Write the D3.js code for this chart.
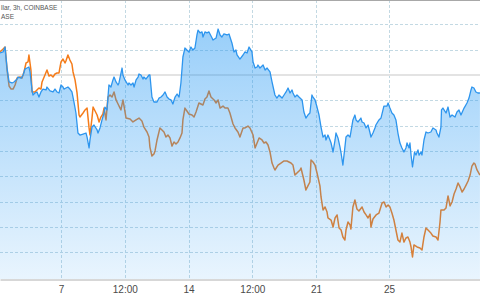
<!DOCTYPE html>
<html><head><meta charset="utf-8">
<script src="https://cdn.jsdelivr.net/npm/d3@7"></script>
<style>html,body{margin:0;padding:0;background:#fff;}svg{display:block;}</style>
</head><body>
<script>
// time in days of month, values in % change
const btcT = [3.65,3.82,3.93,4.04,4.15,4.31,4.42,4.59,4.64,4.81,4.92,5.02,5.13,5.24,5.30,5.41,5.46,5.57,5.68,5.79,5.90,6.01,6.18,6.23,6.40,6.56,6.67,6.78,6.89,7.00,7.11,7.16,7.27,7.38,7.49,7.60,7.71,7.82,7.93,8.04,8.21,8.37,8.43,8.54,8.59,8.70,8.81,8.98,9.03,9.14,9.25,9.36,9.41,9.52,9.63,9.74,9.85,9.91,10.02,10.13,10.18,10.35,10.40,10.51,10.68,10.73,10.84,10.95,11.01,11.12,11.23,11.28,11.39,11.50,11.55,11.66,11.83,11.88,11.99,12.10,12.27,12.38,12.49,12.60,12.71,12.82,12.93,13.04,13.14,13.26,13.37,13.48,13.58,13.69,13.80,13.91,14.02,14.13,14.24,14.35,14.46,14.52,14.63,14.74,14.79,14.90,15.01,15.12,15.29,15.34,15.51,15.62,15.73,15.83,15.94,16.11,16.22,16.38,16.49,16.60,16.66,16.82,16.99,17.10,17.21,17.32,17.48,17.54,17.65,17.76,17.81,17.92,18.09,18.20,18.31,18.47,18.58,18.74,18.85,18.96,19.13,19.24,19.35,19.46,19.57,19.68,19.73,19.84,19.95,20.06,20.23,20.33,20.44,20.55,20.66,20.77,20.83,20.94,21.05,21.16,21.27,21.38,21.49,21.54,21.65,21.76,21.82,21.93,22.04,22.09,22.20,22.31,22.37,22.47,22.58,22.64,22.75,22.86,22.91,23.02,23.13,23.19,23.30,23.46,23.52,23.63,23.74,23.85,23.96,24.01,24.12,24.23,24.28,24.45,24.56,24.67,24.72,24.89,24.95,25.05,25.16,25.27,25.38,25.49,25.60,25.71,25.82,25.93,25.99,26.10,26.15,26.21,26.29,26.40,26.48,26.59,26.65,26.76,26.81,26.92,27.03,27.14,27.30,27.41,27.58,27.63,27.74,27.85,27.88,27.96,28.13,28.24,28.35,28.46,28.62,28.73,28.84,28.95,29.12,29.28,29.39,29.50,29.55,29.66,29.77,29.88,29.99];
const btcV = [1.74,1.82,2.21,0.55,-0.55,-0.63,-0.55,-0.32,-0.16,-0.24,0,0.47,0.55,0.63,0.24,-1.18,-1.58,-1.42,-1.34,-1.74,-1.34,-1.11,-1.18,-0.95,-1.26,-1.34,-1.11,-1.34,-1.42,-0.79,-0.95,-1.11,-1.03,-0.95,-1.11,-1.34,-2.13,-3.00,-4.58,-4.74,-4.66,-4.58,-4.90,-5.76,-5.13,-4.11,-3.95,-4.34,-4.58,-4.18,-3.55,-3.00,-2.53,-2.76,-0.79,-0.95,-0.39,-0.16,-0.55,-0.79,-0.63,0.55,0,-0.39,-0.79,-0.63,-0.79,-0.63,-0.95,-0.39,-0.16,0.08,0,-0.32,-0.16,-0.32,0,0,-1.74,-2.13,-2.13,-1.82,-1.74,-1.58,-1.34,-1.74,-1.90,-1.97,-2.29,-1.74,-1.50,-1.74,-0.63,1.42,2.13,1.97,1.82,2.21,1.97,2.13,3.16,3.55,3.32,3.40,3.00,3.40,3.32,3.40,2.92,2.76,2.92,3.63,3.16,3.00,3.24,3.16,3.24,2.53,1.82,1.97,1.58,1.26,1.58,1.82,1.74,2.21,1.82,1.03,0.55,0.63,0.79,0.55,0.79,0.39,0.55,0.24,-0.55,-1.58,-1.82,-1.58,-1.82,-1.58,-1.34,-1.03,-1.42,-1.18,-1.42,-1.74,-1.58,-1.74,-1.97,-2.92,-3.40,-3.16,-3.00,-1.58,-1.74,-1.97,-2.53,-3.16,-4.11,-4.90,-4.74,-5.13,-4.74,-5.13,-5.37,-6.08,-5.13,-4.58,-4.97,-5.69,-6.16,-7.11,-5.69,-4.90,-4.74,-4.90,-4.50,-3.55,-3.16,-3.55,-3.71,-3.40,-3.71,-3.79,-4.18,-3.95,-4.58,-4.90,-4.58,-4.18,-3.95,-3.55,-3.40,-2.76,-2.45,-2.45,-2.21,-2.61,-3.00,-3.16,-3.55,-4.58,-5.37,-5.76,-6.08,-5.76,-5.37,-5.76,-5.37,-6.32,-7.26,-6.08,-6.32,-5.92,-6.32,-6.08,-6.32,-5.13,-4.50,-4.58,-4.50,-4.18,-4.34,-4.58,-4.90,-4.11,-2.76,-2.61,-3.00,-2.53,-3.32,-3.16,-3.32,-2.92,-2.76,-3.16,-2.61,-2.21,-1.82,-1.18,-0.95,-1.03,-1.34,-1.42,-1.42];
const ethT = [3.65,3.82,3.93,4.04,4.15,4.26,4.37,4.48,4.59,4.75,4.86,4.97,5.08,5.19,5.24,5.35,5.41,5.57,5.68,5.79,5.90,5.96,6.12,6.23,6.34,6.45,6.56,6.67,6.78,6.89,7.00,7.11,7.22,7.27,7.38,7.49,7.60,7.66,7.77,7.88,7.99,8.04,8.21,8.32,8.43,8.54,8.59,8.70,8.76,8.87,8.98,9.09,9.19,9.30,9.36,9.47,9.58,9.69,9.80,9.91,10.02,10.13,10.24,10.29,10.40,10.46,10.57,10.79,10.95,11.12,11.28,11.44,11.55,11.72,11.83,11.88,11.99,12.10,12.16,12.27,12.43,12.54,12.65,12.76,12.87,12.98,13.09,13.20,13.31,13.42,13.53,13.64,13.69,13.80,13.91,14.02,14.19,14.30,14.41,14.57,14.68,14.79,14.90,15.01,15.12,15.23,15.40,15.51,15.62,15.73,15.89,16.00,16.16,16.27,16.44,16.55,16.71,16.82,16.99,17.10,17.26,17.37,17.54,17.65,17.76,17.87,18.03,18.14,18.25,18.36,18.47,18.58,18.69,18.74,18.91,19.07,19.24,19.40,19.51,19.62,19.73,19.84,19.95,20.12,20.17,20.33,20.44,20.55,20.66,20.72,20.83,20.94,21.05,21.21,21.27,21.38,21.49,21.60,21.65,21.82,21.93,22.04,22.15,22.26,22.37,22.47,22.58,22.64,22.75,22.86,22.91,23.02,23.13,23.24,23.35,23.52,23.63,23.74,23.85,23.96,24.01,24.12,24.29,24.45,24.62,24.73,24.84,24.95,25.05,25.16,25.27,25.38,25.49,25.60,25.71,25.82,25.93,26.04,26.15,26.21,26.29,26.37,26.54,26.70,26.81,26.92,27.03,27.14,27.30,27.41,27.58,27.69,27.80,27.85,28.02,28.13,28.24,28.35,28.46,28.57,28.68,28.79,28.90,29.01,29.12,29.23,29.34,29.45,29.55,29.66,29.72,29.83,29.99];
const ethV = [1.82,2.05,2.21,0.39,-0.87,-1.11,-1.11,-0.79,-0.24,-0.16,-0.24,0.24,0.95,1.03,1.58,0.39,-1.34,-1.34,-1.18,-1.03,-1.11,-0.55,0,0.39,-0.08,0,-0.16,0.08,0.16,0.16,1.03,1.26,0.95,1.11,1.58,1.18,0.87,0.24,-0.39,-1.42,-3.16,-3.32,-3.00,-2.76,-2.61,-4.18,-4.74,-3.40,-2.53,-2.84,-3.16,-3.71,-3.32,-3.08,-2.61,-3.55,-1.74,-1.58,-1.74,-1.34,-1.97,-2.29,-2.61,-2.76,-1.97,-2.45,-3.40,-3.47,-3.71,-3.55,-3.40,-3.63,-4.11,-4.50,-4.90,-5.69,-6.40,-6.24,-6.00,-5.13,-4.18,-4.34,-4.50,-4.90,-4.74,-4.97,-5.61,-5.29,-5.45,-5.29,-4.97,-4.58,-3.55,-2.61,-2.84,-3.08,-3.16,-3.32,-2.92,-2.21,-2.29,-2.37,-1.90,-1.74,-1.26,-1.74,-1.97,-2.21,-1.97,-2.61,-2.45,-2.61,-2.61,-3.00,-3.87,-4.18,-4.50,-4.90,-4.18,-4.18,-4.03,-4.18,-4.74,-5.76,-5.37,-4.97,-5.13,-5.37,-5.29,-5.53,-6.08,-6.95,-7.34,-7.50,-7.11,-6.95,-6.79,-6.79,-6.87,-6.95,-7.11,-7.90,-7.74,-7.50,-7.34,-8.29,-9.08,-8.76,-8.45,-6.71,-6.87,-7.11,-7.74,-8.76,-9.63,-10.66,-10.42,-10.82,-11.29,-11.45,-12.00,-11.29,-11.05,-12.08,-12.24,-12.79,-13.03,-12.24,-11.61,-11.84,-12.16,-10.42,-9.87,-10.58,-10.74,-10.42,-10.82,-11.05,-11.29,-10.98,-12.00,-11.37,-11.05,-10.90,-10.11,-10.03,-10.42,-10.26,-10.42,-10.90,-11.45,-12.24,-13.03,-13.19,-12.48,-13.19,-12.87,-12.79,-13.19,-13.58,-14.37,-13.42,-13.58,-13.66,-13.82,-12.79,-12.08,-12.24,-12.48,-12.71,-12.79,-13.03,-11.61,-10.66,-10.66,-10.50,-9.55,-10.34,-10.03,-9.40,-9.00,-8.53,-8.84,-9.24,-9.00,-8.69,-8.37,-7.90,-7.19,-6.95,-7.03,-7.50,-7.90];
const tickDays = [7, 10.5, 14, 17.5, 21, 25];
const tickLabels = ["7", "12:00", "14", "12:00", "21", "25"];
const gridLevels = [4, 2, -2, -4, -6, -8, -10, -12, -14];
const baseLevel = 0;
const legendLines = ["llar, 3h, COINBASE", "ASE"];

const W = 480, H = 300, plotB = 279;
const x = d3.scaleLinear().domain([3.652, 29.994]).range([0, W]);
const y = d3.scaleLinear().domain([-16.108, 5.922]).range([plotB, 0]);

const svg = d3.select("body").append("svg").attr("width", W).attr("height", H);
const defs = svg.append("defs");
const grad = defs.append("linearGradient").attr("id", "ag").attr("gradientUnits", "userSpaceOnUse")
  .attr("x1", 0).attr("x2", 0).attr("y1", 0).attr("y2", plotB);
grad.append("stop").attr("offset", 0).attr("stop-color", "#2196f3").attr("stop-opacity", 0.5);
grad.append("stop").attr("offset", 1).attr("stop-color", "#2196f3").attr("stop-opacity", 0.1);
defs.append("clipPath").attr("id", "pc").append("rect").attr("width", W).attr("height", plotB);

const g = svg.append("g").attr("clip-path", "url(#pc)");
// grid
g.selectAll(".hg").data(gridLevels).join("line")
  .attr("x1", 0).attr("x2", W).attr("y1", d => Math.round(y(d)) + 0.5).attr("y2", d => Math.round(y(d)) + 0.5)
  .attr("stroke", "#c3d9e3").attr("stroke-dasharray", "3,2");
g.selectAll(".vg").data(tickDays).join("line")
  .attr("x1", d => Math.round(x(d)) + 0.5).attr("x2", d => Math.round(x(d)) + 0.5).attr("y1", 0).attr("y2", plotB)
  .attr("stroke", "#c3d9e3").attr("stroke-dasharray", "3,2");
g.append("line").attr("x1", 0).attr("x2", W).attr("y1", y(baseLevel)).attr("y2", y(baseLevel))
  .attr("stroke", "#e3e3e3").attr("stroke-width", 2);

const eth = ethT.map((t, i) => [t, ethV[i]]);
const btc = btcT.map((t, i) => [t, btcV[i]]);
const line = d3.line().x(d => x(d[0])).y(d => y(d[1]));
const area = d3.area().x(d => x(d[0])).y0(plotB).y1(d => y(d[1]));

g.append("path").attr("d", line(eth)).attr("fill", "none").attr("stroke", "#f57c1a")
  .attr("stroke-width", 1.5).attr("stroke-linejoin", "round");
g.append("path").attr("d", area(btc)).attr("fill", "url(#ag)");
g.append("path").attr("d", line(btc)).attr("fill", "none").attr("stroke", "#2d95ee")
  .attr("stroke-width", 1.3).attr("stroke-linejoin", "round");

// borders
svg.append("line").attr("x1", 0).attr("x2", W).attr("y1", 0.5).attr("y2", 0.5).attr("stroke", "#a8a8a8");

// x axis
const ax = d3.axisBottom(x).tickValues(tickDays).tickFormat((d, i) => tickLabels[i]).tickSize(0).tickPadding(6);
const axg = svg.append("g").attr("transform", `translate(0,${plotB + 0.5})`).call(ax);
axg.select(".domain").attr("stroke", "#b0b0b0");
axg.selectAll("text").attr("font-family", "'Liberation Sans', Arial, sans-serif").attr("font-size", 10).attr("fill", "#4a4a4a");

// legend (cropped)
svg.selectAll(".lg").data(legendLines).join("text")
  .attr("x", 1).attr("y", (d, i) => 10 + i * 8.5)
  .attr("font-family", "'Liberation Sans', Arial, sans-serif").attr("font-size", 6.5).attr("fill", "#555")
  .text(d => d);
</script>
</body></html>
